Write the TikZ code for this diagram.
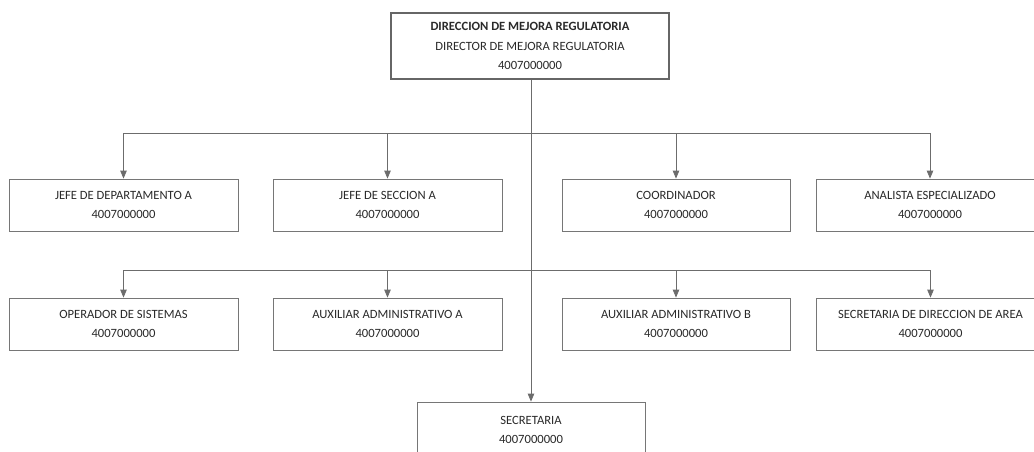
\documentclass[tikz,border=0pt]{standalone}
\usepackage{fontspec}
\setmainfont{Carlito}
\usetikzlibrary{arrows.meta}
\definecolor{txt}{HTML}{2A2A2A}
\definecolor{edge}{HTML}{767676}
\definecolor{wire}{HTML}{6C6C6C}
\begin{document}
\begin{tikzpicture}[x=1pt,y=-1pt,
  box/.style={draw=edge, line width=0.8pt, fill=white, text=txt, align=center,
    minimum width=229pt, minimum height=52pt, inner sep=0pt,
    font=\fontsize{12.6pt}{19.5pt}\selectfont},
  headbox/.style={box, draw=black!60, line width=1.2pt, minimum width=278pt, minimum height=66pt},
  wireline/.style={draw=wire, line width=0.8pt},
  arr/.style={wireline, -{Triangle[width=6.5pt,length=8pt]}}]
\clip (0,0) rectangle (1034,452);
\fill[white] (0,0) rectangle (1034,452);
\node[headbox] (top) at (530,46) {\textbf{DIRECCION DE MEJORA REGULATORIA}\\DIRECTOR DE MEJORA REGULATORIA\\4007000000};
\node[box] (jd) at (123.5,205) {JEFE DE DEPARTAMENTO A\\4007000000};
\node[box] (js) at (387.5,205) {JEFE DE SECCION A\\4007000000};
\node[box, minimum width=228pt] (co) at (676,205) {COORDINADOR\\4007000000};
\node[box, minimum width=228pt] (an) at (930,205) {ANALISTA ESPECIALIZADO\\4007000000};
\node[box] (op) at (123.5,324) {OPERADOR DE SISTEMAS\\4007000000};
\node[box] (aa) at (387.5,324) {AUXILIAR ADMINISTRATIVO A\\4007000000};
\node[box, minimum width=228pt] (ab) at (676,324) {AUXILIAR ADMINISTRATIVO B\\4007000000};
\node[box, minimum width=228pt] (sd) at (930.5,324) {SECRETARIA DE DIRECCION DE AREA\\4007000000};
\node[box, minimum width=228pt, minimum height=56pt] (se) at (531,430) {SECRETARIA\\4007000000};
\coordinate (busA) at (531,133);
\coordinate (busB) at (531,270);
\draw[arr] (top.south -| se.north) -- (se.north);
\draw[wireline] (jd.north |- busA) -- (an.north |- busA);
\draw[wireline] (op.north |- busB) -- (sd.north |- busB);
\foreach \n in {jd,js,co,an}{\draw[arr] (\n.north |- busA) -- (\n.north);}
\foreach \n in {op,aa,ab,sd}{\draw[arr] (\n.north |- busB) -- (\n.north);}
\end{tikzpicture}
\end{document}
